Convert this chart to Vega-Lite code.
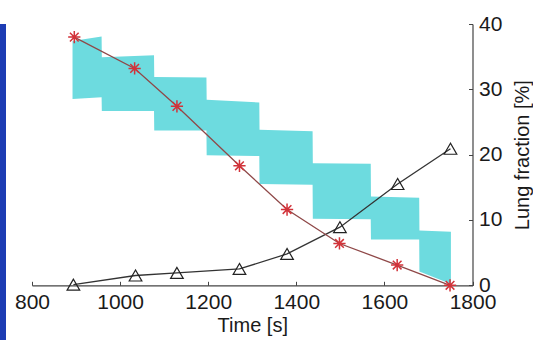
{
  "$schema": "https://vega.github.io/schema/vega-lite/v6.json",
  "background": "white",
  "padding": 0,
  "spacing": 8,
  "config": {"view": {"stroke": null}, "font": "Liberation Sans"},
  "datasets": {
    "band": [
      {"t": 892, "v": 28.5, "v2": 37.4},
      {"t": 958, "v": 28.8, "v2": 38.1},
      {"t": 958.5, "v": 26.7, "v2": 34.9},
      {"t": 1077, "v": 26.7, "v2": 35.2},
      {"t": 1077.5, "v": 23.7, "v2": 31.9},
      {"t": 1196, "v": 23.7, "v2": 31.8},
      {"t": 1196.5, "v": 19.9, "v2": 28.4},
      {"t": 1316, "v": 19.8, "v2": 28.0},
      {"t": 1316.5, "v": 15.5, "v2": 23.8},
      {"t": 1437, "v": 15.4, "v2": 23.6},
      {"t": 1437.5, "v": 10.2, "v2": 18.7},
      {"t": 1569, "v": 10.1, "v2": 18.6},
      {"t": 1569.5, "v": 7.0, "v2": 13.6},
      {"t": 1679, "v": 7.0, "v2": 13.4},
      {"t": 1679.5, "v": 2.1, "v2": 8.4},
      {"t": 1751, "v": 0.2, "v2": 8.2}
    ],
    "red": [
      {"t": 896, "v": 38.0},
      {"t": 1033, "v": 33.2},
      {"t": 1129, "v": 27.4},
      {"t": 1271, "v": 18.3},
      {"t": 1379, "v": 11.6},
      {"t": 1498, "v": 6.4},
      {"t": 1629, "v": 3.1},
      {"t": 1749, "v": 0.0}
    ],
    "black": [
      {"t": 894, "v": 0.1},
      {"t": 1035, "v": 1.5},
      {"t": 1129, "v": 1.9},
      {"t": 1271, "v": 2.5},
      {"t": 1379, "v": 4.8},
      {"t": 1499, "v": 8.9},
      {"t": 1630, "v": 15.5},
      {"t": 1750, "v": 20.9}
    ]
  },
  "hconcat": [
    {
      "width": 6,
      "height": 340,
      "view": {"fill": "#1d3cb4", "stroke": null},
      "data": {"values": [{"k": 1}]},
      "mark": {"type": "rect", "color": "#1d3cb4"},
      "encoding": {}
    },
    {
      "width": 440.5,
      "height": 261.3,
      "title": {"text": " ", "fontSize": 1, "offset": 12},
      "encoding": {
        "x": {
          "field": "t", "type": "quantitative",
          "scale": {"domain": [800, 1800], "nice": false, "zero": false},
          "axis": {
            "title": "Time [s]",
            "values": [800, 1000, 1200, 1400, 1600, 1800],
            "format": "d",
            "grid": false,
            "tickSize": -4,
            "labelFlush": false,
            "labelOverlap": false,
            "domainColor": "#444444",
            "tickColor": "#444444",
            "domainWidth": 1.2,
            "labelFontSize": 21,
            "titleFontSize": 20,
            "titleFontWeight": "normal",
            "labelColor": "#1a1a1a",
            "titleColor": "#1a1a1a",
            "labelPadding": 10,
            "titlePadding": 3
          }
        },
        "y": {
          "field": "v", "type": "quantitative",
          "scale": {"domain": [0, 40], "nice": false},
          "axis": {
            "orient": "right",
            "title": "Lung fraction [%]",
            "values": [0, 10, 20, 30, 40],
            "format": "d",
            "grid": false,
            "tickSize": -4,
            "domainColor": "#444444",
            "tickColor": "#444444",
            "domainWidth": 1.2,
            "labelFontSize": 21,
            "titleFontSize": 20,
            "titleFontWeight": "normal",
            "labelColor": "#1a1a1a",
            "titleColor": "#1a1a1a",
            "labelPadding": 10,
            "titlePadding": 11,
            "titleAngle": 270,
            "titleBaseline": "top"
          }
        }
      },
      "layer": [
        {
          "data": {"name": "band"},
          "mark": {"type": "area", "color": "#6ddbdf", "opacity": 1},
          "encoding": {"y2": {"field": "v2"}}
        },
        {
          "data": {"name": "black"},
          "mark": {"type": "line", "color": "#333333", "strokeWidth": 1.3},
          "encoding": {}
        },
        {
          "data": {"name": "black"},
          "mark": {"type": "point", "shape": "triangle-up", "size": 160, "filled": false, "color": "#222222", "strokeWidth": 1.2, "opacity": 1},
          "encoding": {}
        },
        {
          "data": {"name": "red"},
          "mark": {"type": "line", "color": "#8f4848", "strokeWidth": 1.3},
          "encoding": {}
        },
        {
          "data": {"name": "red"},
          "mark": {"type": "point", "shape": "M0,-1L0,1M-1,0L1,0M-0.71,-0.71L0.71,0.71M-0.71,0.71L0.71,-0.71", "size": 150, "filled": false, "color": "#d2333a", "strokeWidth": 1.5, "opacity": 1},
          "encoding": {}
        }
      ]
    }
  ]
}
